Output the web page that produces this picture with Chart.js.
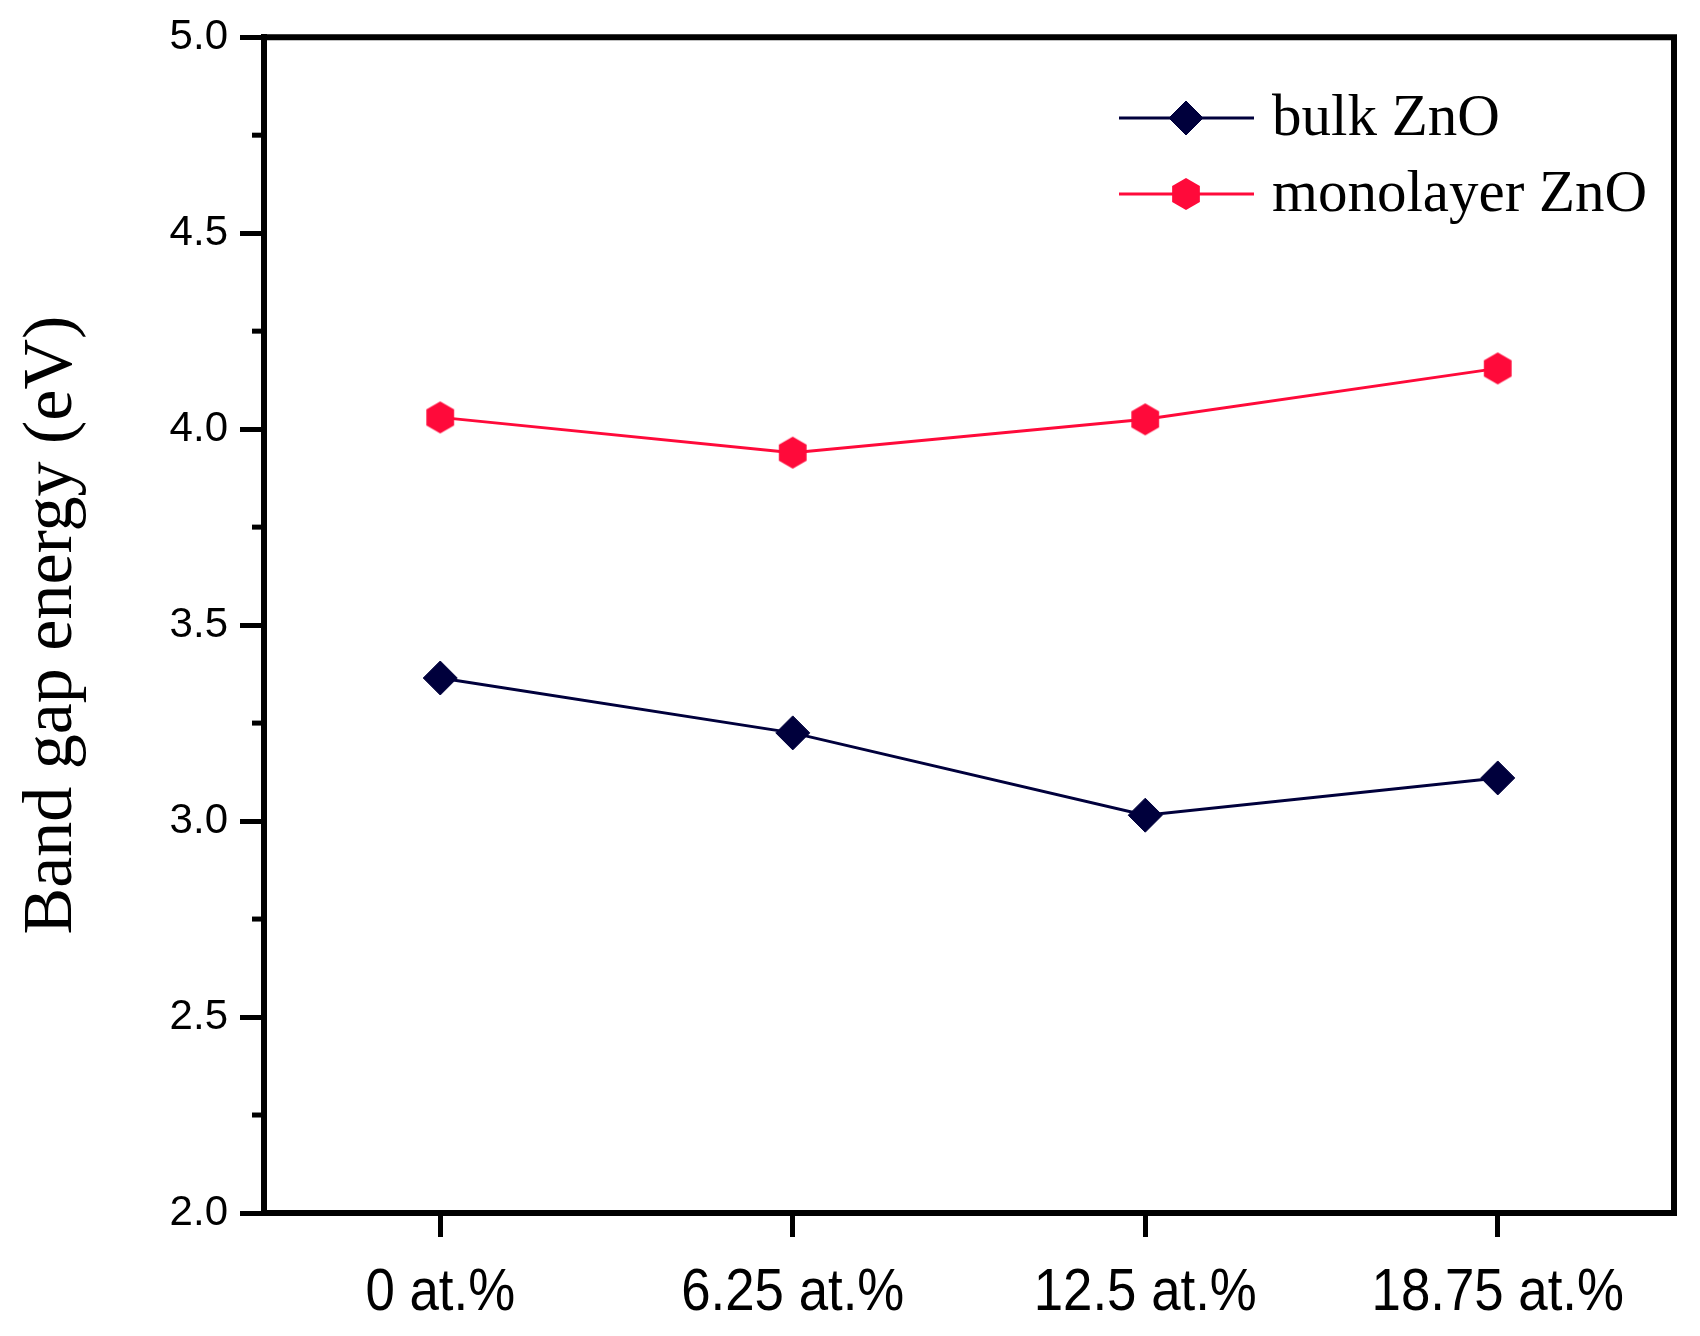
<!DOCTYPE html>
<html><head><meta charset="utf-8">
<script src="https://cdn.jsdelivr.net/npm/chart.js@4.4.1/dist/chart.umd.min.js"></script>
<style>html,body{margin:0;padding:0;background:#fff;overflow:hidden}#wrap{width:1700px;height:1336px}</style>
</head><body><div id="wrap"><canvas id="c" width="1700" height="1336"></canvas></div>
<script>
// ---- data ----
const categories = ['0 at.%', '6.25 at.%', '12.5 at.%', '18.75 at.%'];
const bulkZnO = [3.365, 3.225, 3.015, 3.11];
const monolayerZnO = [4.03, 3.94, 4.025, 4.155];
const seriesNames = ['bulk ZnO', 'monolayer ZnO'];
const yMin = 2.0, yMax = 5.0, yMajorStep = 0.5, yMinorStep = 0.25;
const yTitle = 'Band gap energy (eV)';

// ---- styles ----
const NAVY = '#00003c', RED = '#ff0a3a';

function hexagon(r, color){
  const w = Math.ceil(2*r*Math.cos(Math.PI/6)) + 2, h = Math.ceil(2*r) + 2;
  const c = document.createElement('canvas'); c.width = w; c.height = h;
  const g = c.getContext('2d'); g.fillStyle = color; g.beginPath();
  for (let k=0;k<6;k++){ const a = -Math.PI/2 + k*Math.PI/3; const px = w/2 + r*Math.cos(a), py = h/2 + r*Math.sin(a); k?g.lineTo(px,py):g.moveTo(px,py); }
  g.closePath(); g.fill(); return c;
}
const hexMarker = hexagon(16, RED);

const frame = {
  id:'frame',
  afterDraw(chart){
    const {ctx, chartArea:a} = chart; const y = chart.scales.y, x = chart.scales.x;
    ctx.save();
    ctx.strokeStyle = '#000'; ctx.lineWidth = 6; ctx.lineCap='square';
    ctx.beginPath(); ctx.moveTo(a.left, a.top); ctx.lineTo(a.right, a.top); ctx.lineTo(a.right, a.bottom); ctx.stroke();
    // minor ticks
    ctx.lineWidth = 5; ctx.lineCap='butt';
    for (let v = yMin; v <= yMax + 1e-9; v += yMinorStep){
      if (Math.abs(v/yMajorStep - Math.round(v/yMajorStep)) < 1e-6) continue;
      const py = y.getPixelForValue(v);
      ctx.beginPath(); ctx.moveTo(a.left - 12, py); ctx.lineTo(a.left, py); ctx.stroke();
    }
    // condensed category labels
    ctx.fillStyle = '#000'; ctx.font = '60px "Liberation Sans", Arial, sans-serif';
    ctx.textAlign = 'center'; ctx.textBaseline = 'alphabetic';
    x.ticks.forEach((t, i) => {
      const px = x.getPixelForTick(i);
      ctx.save(); ctx.translate(px, a.bottom + 97); ctx.scale(0.88, 1);
      ctx.fillText(x.getLabelForValue(t.value), 0, 0); ctx.restore();
    });
    // legend
    const lx0 = 1119, lx1 = 1254, mx = 1186, tx = 1272, ly0 = 118, gap = 76;
    chart.data.datasets.forEach((ds, i) => {
      const ly = ly0 + i*gap;
      ctx.strokeStyle = ds.borderColor; ctx.lineWidth = ds.borderWidth;
      ctx.beginPath(); ctx.moveTo(lx0, ly); ctx.lineTo(lx1, ly); ctx.stroke();
      ctx.fillStyle = ds.pointBackgroundColor; ctx.strokeStyle = ds.pointBorderColor; ctx.lineWidth = ds.pointBorderWidth;
      Chart.helpers.drawPoint(ctx, {pointStyle: ds.pointStyle, radius: ds.pointRadius, borderWidth: ds.pointBorderWidth, rotation: 0}, mx, ly);
      ctx.fillStyle = '#000'; ctx.font = '59px "Liberation Serif", "Times New Roman", serif';
      ctx.textBaseline = 'middle'; ctx.textAlign = 'left';
      ctx.fillText(ds.label, tx, ly + 1);
    });
    ctx.restore();
  }
};

new Chart(document.getElementById('c'), {
  type: 'line',
  data: {
    labels: categories,
    datasets: [
      {label: seriesNames[0], data: bulkZnO, borderColor: NAVY, borderWidth: 3, pointStyle: 'rectRot', pointRadius: 17, pointBorderWidth: 1, pointBackgroundColor: NAVY, pointBorderColor: NAVY, tension: 0},
      {label: seriesNames[1], data: monolayerZnO, borderColor: RED, borderWidth: 3, pointStyle: hexMarker, pointRadius: 16, pointBorderWidth: 1, pointBackgroundColor: RED, pointBorderColor: RED, tension: 0}
    ]
  },
  options: {
    responsive: false, animation: false, devicePixelRatio: 1,
    layout: {padding: {top: 33, right: 26, left: 0, bottom: 0}},
    plugins: {legend: {display: false}, tooltip: {enabled: false}},
    scales: {
      x: {
        offset: true,
        grid: {display: true, drawOnChartArea: false, drawTicks: true, tickLength: 24, tickWidth: 5, tickColor: '#000', offset: false},
        border: {display: true, width: 6, color: '#000'},
        ticks: {color: 'rgba(0,0,0,0)', font: {family: '"Liberation Sans", Arial', size: 50}, padding: 22, maxRotation: 0, autoSkip: false},
        afterFit(s){ s.height = 123; }
      },
      y: {
        min: yMin, max: yMax,
        grid: {display: true, drawOnChartArea: false, drawTicks: true, tickLength: 24, tickWidth: 5, tickColor: '#000'},
        border: {display: true, width: 6, color: '#000'},
        ticks: {stepSize: yMajorStep, color: '#000', font: {family: '"Liberation Sans", Arial', size: 42}, padding: 12, callback: v => Number(v).toFixed(1)},
        title: {display: true, text: yTitle, color: '#000', font: {family: '"Liberation Serif", "Times New Roman", serif', size: 70, lineHeight: 1}, padding: {top: 18, bottom: 0}},
        afterFit(s){ s.width = 264; }
      }
    }
  },
  plugins: [frame]
});
</script>
</body></html>
